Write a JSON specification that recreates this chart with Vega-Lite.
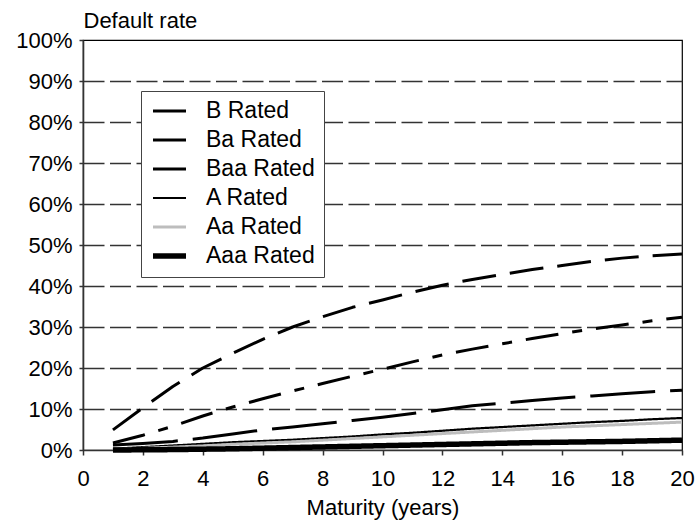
{
  "$schema": "https://vega.github.io/schema/vega-lite/v6.json",
  "width": 599,
  "height": 410,
  "autosize": {"type": "none"},
  "padding": {"left": 83, "top": 40, "right": 18, "bottom": 75},
  "background": "white",
  "config": {
    "font": "Liberation Sans",
    "view": {"stroke": "#000", "strokeWidth": 1.2},
    "axis": {"labelFont": "Liberation Sans", "titleFont": "Liberation Sans", "labelColor": "#000", "titleColor": "#000", "labelFontSize": 22, "titleFontSize": 22, "titleFontWeight": "normal", "domainColor": "#333", "domainWidth": 1.6, "tickColor": "#333", "tickWidth": 1.5}
  },
  "datasets": {
    "rates": [
      {"rating": "B Rated", "maturity": 1, "rate": 0.049}, {"rating": "B Rated", "maturity": 2, "rate": 0.103}, {"rating": "B Rated", "maturity": 3, "rate": 0.155}, {"rating": "B Rated", "maturity": 4, "rate": 0.20}, {"rating": "B Rated", "maturity": 5, "rate": 0.236}, {"rating": "B Rated", "maturity": 6, "rate": 0.27}, {"rating": "B Rated", "maturity": 7, "rate": 0.30}, {"rating": "B Rated", "maturity": 8, "rate": 0.325}, {"rating": "B Rated", "maturity": 9, "rate": 0.348}, {"rating": "B Rated", "maturity": 10, "rate": 0.366}, {"rating": "B Rated", "maturity": 11, "rate": 0.385}, {"rating": "B Rated", "maturity": 12, "rate": 0.402}, {"rating": "B Rated", "maturity": 13, "rate": 0.416}, {"rating": "B Rated", "maturity": 14, "rate": 0.428}, {"rating": "B Rated", "maturity": 15, "rate": 0.44}, {"rating": "B Rated", "maturity": 16, "rate": 0.45}, {"rating": "B Rated", "maturity": 17, "rate": 0.46}, {"rating": "B Rated", "maturity": 18, "rate": 0.468}, {"rating": "B Rated", "maturity": 19, "rate": 0.474}, {"rating": "B Rated", "maturity": 20, "rate": 0.478},
      {"rating": "Ba Rated", "maturity": 1, "rate": 0.017}, {"rating": "Ba Rated", "maturity": 2, "rate": 0.036}, {"rating": "Ba Rated", "maturity": 3, "rate": 0.058}, {"rating": "Ba Rated", "maturity": 4, "rate": 0.083}, {"rating": "Ba Rated", "maturity": 5, "rate": 0.105}, {"rating": "Ba Rated", "maturity": 6, "rate": 0.125}, {"rating": "Ba Rated", "maturity": 7, "rate": 0.144}, {"rating": "Ba Rated", "maturity": 8, "rate": 0.162}, {"rating": "Ba Rated", "maturity": 9, "rate": 0.18}, {"rating": "Ba Rated", "maturity": 10, "rate": 0.197}, {"rating": "Ba Rated", "maturity": 11, "rate": 0.215}, {"rating": "Ba Rated", "maturity": 12, "rate": 0.232}, {"rating": "Ba Rated", "maturity": 13, "rate": 0.246}, {"rating": "Ba Rated", "maturity": 14, "rate": 0.259}, {"rating": "Ba Rated", "maturity": 15, "rate": 0.272}, {"rating": "Ba Rated", "maturity": 16, "rate": 0.284}, {"rating": "Ba Rated", "maturity": 17, "rate": 0.295}, {"rating": "Ba Rated", "maturity": 18, "rate": 0.305}, {"rating": "Ba Rated", "maturity": 19, "rate": 0.315}, {"rating": "Ba Rated", "maturity": 20, "rate": 0.324},
      {"rating": "Baa Rated", "maturity": 1, "rate": 0.012}, {"rating": "Baa Rated", "maturity": 2, "rate": 0.016}, {"rating": "Baa Rated", "maturity": 3, "rate": 0.021}, {"rating": "Baa Rated", "maturity": 4, "rate": 0.029}, {"rating": "Baa Rated", "maturity": 5, "rate": 0.039}, {"rating": "Baa Rated", "maturity": 6, "rate": 0.049}, {"rating": "Baa Rated", "maturity": 7, "rate": 0.056}, {"rating": "Baa Rated", "maturity": 8, "rate": 0.064}, {"rating": "Baa Rated", "maturity": 9, "rate": 0.072}, {"rating": "Baa Rated", "maturity": 10, "rate": 0.08}, {"rating": "Baa Rated", "maturity": 11, "rate": 0.089}, {"rating": "Baa Rated", "maturity": 12, "rate": 0.098}, {"rating": "Baa Rated", "maturity": 13, "rate": 0.108}, {"rating": "Baa Rated", "maturity": 14, "rate": 0.114}, {"rating": "Baa Rated", "maturity": 15, "rate": 0.121}, {"rating": "Baa Rated", "maturity": 16, "rate": 0.127}, {"rating": "Baa Rated", "maturity": 17, "rate": 0.132}, {"rating": "Baa Rated", "maturity": 18, "rate": 0.137}, {"rating": "Baa Rated", "maturity": 19, "rate": 0.142}, {"rating": "Baa Rated", "maturity": 20, "rate": 0.146},
      {"rating": "A Rated", "maturity": 1, "rate": 0.003}, {"rating": "A Rated", "maturity": 2, "rate": 0.007}, {"rating": "A Rated", "maturity": 3, "rate": 0.011}, {"rating": "A Rated", "maturity": 4, "rate": 0.015}, {"rating": "A Rated", "maturity": 5, "rate": 0.019}, {"rating": "A Rated", "maturity": 6, "rate": 0.022}, {"rating": "A Rated", "maturity": 7, "rate": 0.025}, {"rating": "A Rated", "maturity": 8, "rate": 0.029}, {"rating": "A Rated", "maturity": 9, "rate": 0.033}, {"rating": "A Rated", "maturity": 10, "rate": 0.038}, {"rating": "A Rated", "maturity": 11, "rate": 0.042}, {"rating": "A Rated", "maturity": 12, "rate": 0.047}, {"rating": "A Rated", "maturity": 13, "rate": 0.052}, {"rating": "A Rated", "maturity": 14, "rate": 0.056}, {"rating": "A Rated", "maturity": 15, "rate": 0.06}, {"rating": "A Rated", "maturity": 16, "rate": 0.064}, {"rating": "A Rated", "maturity": 17, "rate": 0.068}, {"rating": "A Rated", "maturity": 18, "rate": 0.071}, {"rating": "A Rated", "maturity": 19, "rate": 0.075}, {"rating": "A Rated", "maturity": 20, "rate": 0.078},
      {"rating": "Aa Rated", "maturity": 1, "rate": 0.001}, {"rating": "Aa Rated", "maturity": 2, "rate": 0.004}, {"rating": "Aa Rated", "maturity": 3, "rate": 0.007}, {"rating": "Aa Rated", "maturity": 4, "rate": 0.010}, {"rating": "Aa Rated", "maturity": 5, "rate": 0.014}, {"rating": "Aa Rated", "maturity": 6, "rate": 0.017}, {"rating": "Aa Rated", "maturity": 7, "rate": 0.020}, {"rating": "Aa Rated", "maturity": 8, "rate": 0.024}, {"rating": "Aa Rated", "maturity": 9, "rate": 0.028}, {"rating": "Aa Rated", "maturity": 10, "rate": 0.032}, {"rating": "Aa Rated", "maturity": 11, "rate": 0.036}, {"rating": "Aa Rated", "maturity": 12, "rate": 0.040}, {"rating": "Aa Rated", "maturity": 13, "rate": 0.044}, {"rating": "Aa Rated", "maturity": 14, "rate": 0.048}, {"rating": "Aa Rated", "maturity": 15, "rate": 0.052}, {"rating": "Aa Rated", "maturity": 16, "rate": 0.056}, {"rating": "Aa Rated", "maturity": 17, "rate": 0.059}, {"rating": "Aa Rated", "maturity": 18, "rate": 0.062}, {"rating": "Aa Rated", "maturity": 19, "rate": 0.065}, {"rating": "Aa Rated", "maturity": 20, "rate": 0.068},
      {"rating": "Aaa Rated", "maturity": 1, "rate": 0.0}, {"rating": "Aaa Rated", "maturity": 2, "rate": 0.0005}, {"rating": "Aaa Rated", "maturity": 3, "rate": 0.001}, {"rating": "Aaa Rated", "maturity": 4, "rate": 0.002}, {"rating": "Aaa Rated", "maturity": 5, "rate": 0.003}, {"rating": "Aaa Rated", "maturity": 6, "rate": 0.0045}, {"rating": "Aaa Rated", "maturity": 7, "rate": 0.006}, {"rating": "Aaa Rated", "maturity": 8, "rate": 0.0075}, {"rating": "Aaa Rated", "maturity": 9, "rate": 0.009}, {"rating": "Aaa Rated", "maturity": 10, "rate": 0.0105}, {"rating": "Aaa Rated", "maturity": 11, "rate": 0.012}, {"rating": "Aaa Rated", "maturity": 12, "rate": 0.0135}, {"rating": "Aaa Rated", "maturity": 13, "rate": 0.015}, {"rating": "Aaa Rated", "maturity": 14, "rate": 0.0165}, {"rating": "Aaa Rated", "maturity": 15, "rate": 0.018}, {"rating": "Aaa Rated", "maturity": 16, "rate": 0.019}, {"rating": "Aaa Rated", "maturity": 17, "rate": 0.020}, {"rating": "Aaa Rated", "maturity": 18, "rate": 0.021}, {"rating": "Aaa Rated", "maturity": 19, "rate": 0.0225}, {"rating": "Aaa Rated", "maturity": 20, "rate": 0.024}
    ]
  },
  "data": {"name": "rates"},
  "mark": {"type": "line", "strokeCap": "butt", "strokeJoin": "round"},
  "encoding": {
    "x": {
      "field": "maturity", "type": "quantitative",
      "scale": {"domain": [0, 20], "nice": false, "zero": false},
      "axis": {"title": "Maturity (years)", "values": [0, 2, 4, 6, 8, 10, 12, 14, 16, 18, 20], "grid": false, "tickSize": 5, "labelPadding": 13, "titlePadding": 8, "labelFlush": false}
    },
    "y": {
      "field": "rate", "type": "quantitative",
      "scale": {"domain": [0, 1], "nice": false},
      "axis": {
        "title": "Default rate", "titleAngle": 0, "titleAlign": "left", "titleBaseline": "alphabetic", "titleX": 0, "titleY": -13,
        "values": [0, 0.1, 0.2, 0.3, 0.4, 0.5, 0.6, 0.7, 0.8, 0.9, 1], "format": ".0%",
        "tickSize": 4, "labelPadding": 7,
        "grid": true, "gridColor": "#333", "gridWidth": 1.5, "gridDash": [21, 5.5],
        "gridOpacity": {"condition": {"test": "datum.value <= 0 || datum.value >= 1", "value": 0}, "value": 1}
      }
    },
    "color": {
      "field": "rating", "type": "nominal",
      "scale": {"domain": ["B Rated", "Ba Rated", "Baa Rated", "A Rated", "Aa Rated", "Aaa Rated"], "range": ["#000", "#000", "#000", "#000", "#bdbdbd", "#000"]},
      "legend": {
        "title": null, "orient": "none", "legendX": 58, "legendY": 51,
        "symbolType": "stroke", "symbolSize": 1089, "symbolStrokeWidth": 3,
        "clipHeight": 22, "rowPadding": 6, "labelOffset": 17,
        "labelFontSize": 23, "labelFont": "Liberation Sans", "labelColor": "#000",
        "padding": 9, "strokeColor": "#444", "fillColor": "#fff",
        "encode": {"symbols": {"update": {"size": {"value": 1089}, "strokeDash": {"value": [1, 0]}, "strokeWidth": {"scale": "strokeWidth", "field": "value"}}}}
      }
    },
    "strokeDash": {
      "field": "rating", "type": "nominal",
      "scale": {"domain": ["B Rated", "Ba Rated", "Baa Rated", "A Rated", "Aa Rated", "Aaa Rated"], "range": [[34, 14], [33, 14, 10, 14], [65, 15], [1, 0], [1, 0], [1, 0]]},
      "legend": null
    },
    "strokeWidth": {
      "field": "rating", "type": "ordinal",
      "scale": {"type": "ordinal", "domain": ["B Rated", "Ba Rated", "Baa Rated", "A Rated", "Aa Rated", "Aaa Rated"], "range": [3, 3, 3, 2.2, 3, 5.5]},
      "legend": null
    }
  }
}
